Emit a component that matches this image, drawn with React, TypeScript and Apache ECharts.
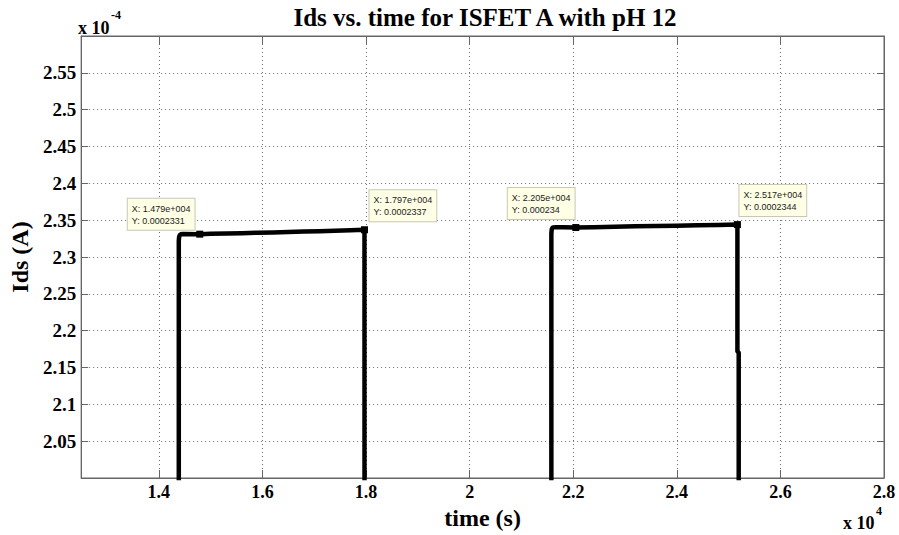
import React, { useEffect, useRef } from "react";
import * as echarts from "echarts";

// time in units of 1e4 s, current in units of 1e-4 A
const timeE4 = [
  1.25, 1.4385,
  1.4385, 1.4392, 1.4405, 1.4425, 1.446, 1.479, 1.5, 1.53, 1.56, 1.59, 1.62, 1.65, 1.68, 1.71, 1.74, 1.77, 1.797, 1.7975, 1.7975,
  2.1578, 2.1578, 2.1585, 2.1598, 2.162, 2.166, 2.18, 2.205, 2.24, 2.28, 2.32, 2.36, 2.4, 2.44, 2.48, 2.517, 2.517, 2.5195, 2.5195, 2.8,
];
const idsE4 = [
  0, 0,
  2.322, 2.3275, 2.3298, 2.3308, 2.3312, 2.331, 2.3315, 2.3318, 2.3322, 2.3329, 2.3334, 2.3339, 2.3345, 2.335, 2.3356, 2.3362, 2.337, 2.337, 0,
  0, 2.332, 2.3375, 2.3395, 2.3402, 2.3405, 2.3405, 2.34, 2.3405, 2.341, 2.3416, 2.342, 2.3425, 2.343, 2.3436, 2.344, 2.172, 2.17, 0, 0,
];
const tipTime = [1.479, 1.797, 2.205, 2.517];
const tipIds = [2.331, 2.337, 2.34, 2.344];
const xTickLabels = [1.4, 1.6, 1.8, 2, 2.2, 2.4, 2.6, 2.8];

const titleText = "Ids vs. time for ISFET A with pH 12";
const xName = "time (s)";
const yName = "Ids (A)";

const SERIF = "Liberation Serif";
const SANS = "Liberation Sans";

export default function App() {
  const ref = useRef<HTMLDivElement>(null);
  useEffect(() => {
    document.body.style.margin = "0";
    if (!ref.current) return;
    const chart = echarts.init(ref.current, null, { renderer: "svg" });
    const tipOffsets = [
      [-72, -1],
      [5, -5],
      [-68, -5],
      [2, -5],
    ];
    const fmtY = (v: number) => String(parseFloat((v * 1e-4).toPrecision(4)));
    const gridColor = "#6f6f6f";
    const gridType = [1, 3];
    const axisColor = "#666666";
    const option: any = {
      animation: false,
      backgroundColor: "#ffffff",
      title: {
        text: titleText,
        left: 480,
        top: 0,
        textAlign: "center",
        textStyle: { fontFamily: SERIF, fontWeight: "bold", fontSize: 25, color: "#000" },
      },
      grid: {
        left: 78,
        right: 15,
        top: 36,
        bottom: 56,
        show: true,
        borderColor: axisColor,
        borderWidth: 1,
        backgroundColor: "#fff",
      },
      xAxis: [
        {
          type: "value",
          min: 1.25,
          max: 2.8,
          position: "bottom",
          name: xName,
          nameLocation: "middle",
          nameGap: 28,
          nameTextStyle: { fontFamily: SERIF, fontWeight: "bold", fontSize: 24, color: "#000" },
          axisLine: { show: true, lineStyle: { color: axisColor } },
          axisTick: { show: true, inside: true, length: 8, customValues: xTickLabels, lineStyle: { color: axisColor } },
          axisLabel: {
            customValues: xTickLabels,
            formatter: (v: number) => String(parseFloat(v.toFixed(2))),
            fontFamily: SERIF,
            fontWeight: "bold",
            fontSize: 18,
            color: "#000",
            margin: 5,
          },
          splitLine: { show: true, lineStyle: { color: gridColor, type: gridType, width: 1 } },
        },
        {
          type: "value",
          min: 1.25,
          max: 2.8,
          position: "top",
          axisLine: { show: true, lineStyle: { color: axisColor } },
          axisTick: { show: true, inside: true, length: 8, customValues: xTickLabels, lineStyle: { color: axisColor } },
          axisLabel: { show: false },
          splitLine: { show: false },
        },
      ],
      yAxis: [
        {
          type: "value",
          min: 2.0,
          max: 2.6,
          interval: 0.05,
          position: "left",
          name: yName,
          nameLocation: "middle",
          nameGap: 41,
          nameTextStyle: { fontFamily: SERIF, fontWeight: "bold", fontSize: 24, color: "#000" },
          axisLine: { show: true, lineStyle: { color: axisColor } },
          axisTick: { show: true, inside: true, length: 7, lineStyle: { color: axisColor } },
          axisLabel: {
            showMinLabel: false,
            showMaxLabel: false,
            formatter: (v: number) => String(parseFloat(v.toFixed(2))),
            fontFamily: SERIF,
            fontWeight: "bold",
            fontSize: 19,
            color: "#000",
            margin: 5,
          },
          splitLine: { show: true, lineStyle: { color: gridColor, type: gridType, width: 1 } },
        },
        {
          type: "value",
          min: 2.0,
          max: 2.6,
          interval: 0.05,
          position: "right",
          axisLine: { show: true, lineStyle: { color: axisColor } },
          axisTick: { show: true, inside: true, length: 7, lineStyle: { color: axisColor } },
          axisLabel: { show: false },
          splitLine: { show: false },
        },
      ],
      graphic: [
        { type: "text", x: 78, y: 19, style: { text: "x 10", font: "bold 18px 'Liberation Serif'", fill: "#000" } },
        { type: "text", x: 111, y: 9, style: { text: "-4", font: "bold 12px 'Liberation Serif'", fill: "#000" } },
        { type: "text", x: 843, y: 514, style: { text: "x 10", font: "bold 18px 'Liberation Serif'", fill: "#000" } },
        { type: "text", x: 876, y: 505, style: { text: "4", font: "bold 12px 'Liberation Serif'", fill: "#000" } },
      ],
      series: [
        {
          type: "line",
          data: timeE4.map((t, i) => [t, idsE4[i]]),
          xAxisIndex: 0,
          yAxisIndex: 0,
          showSymbol: false,
          symbol: "none",
          clip: true,
          lineStyle: { color: "#000", width: 4.5, join: "round" },
          markPoint: {
            symbol: "rect",
            symbolSize: 7,
            itemStyle: { color: "#000" },
            data: tipTime.map((t, i) => ({
              coord: [t, tipIds[i]],
              label: {
                show: true,
                position: "top",
                distance: 0,
                offset: tipOffsets[i],
                formatter: `X: ${t.toFixed(3)}e+004\nY: ${fmtY(tipIds[i])}`,
                fontFamily: SANS,
                fontSize: 9,
                lineHeight: 12,
                color: "#222",
                align: "left",
                backgroundColor: "#ffffe6",
                borderColor: "#c8c8b4",
                borderWidth: 1,
                padding: [4, 4, 3, 4],
              },
            })),
          },
        },
      ],
    };
    chart.setOption(option);
    return () => chart.dispose();
  }, []);
  return <div ref={ref} style={{ width: 899, height: 535 }} />;
}
